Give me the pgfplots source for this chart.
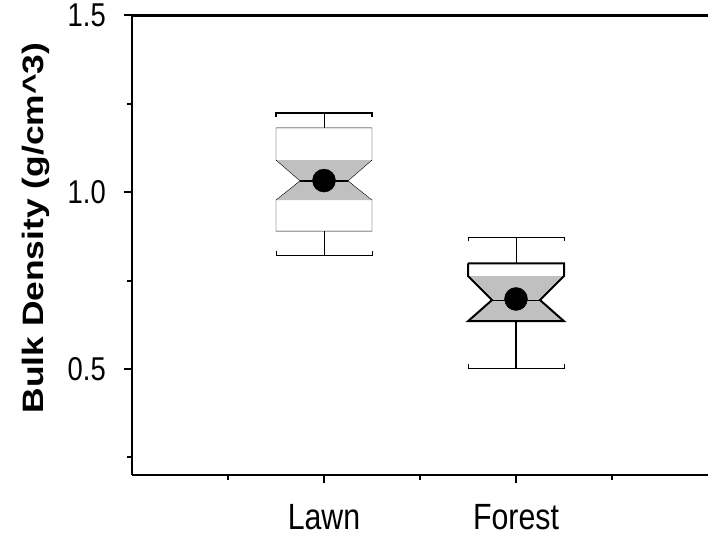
\documentclass[border=0pt]{standalone}
\usepackage{pgfplots}
\pgfplotsset{compat=1.18}
\usepackage{fontspec}
\setmainfont{Liberation Sans}
\usepackage{graphicx}
\newcommand\sqx[1]{\scalebox{0.83}[1]{#1}}
\definecolor{boxgray}{HTML}{C0C0C0}
\begin{document}
\begin{tikzpicture}
\begin{axis}[
  scale only axis, width=576pt, height=459.5pt,
  xmin=0, xmax=6, ymin=0.2, ymax=1.5,
  axis x line=box, axis y line=left,
  separate axis lines,
  axis line style={-, line width=2.2pt, black},
  every outer x axis line/.append style={-, line width=2.2pt, black},
  every outer y axis line/.append style={-, line width=2.2pt, black},
  xtick={2,4}, xticklabels={\sqx{Lawn},\sqx{Forest}},
  minor xtick={1,3,5},
  ytick={0.5,1.0,1.5}, yticklabels={\sqx{0.5},\sqx{1.0},\sqx{1.5}},
  minor ytick={0.25,0.75,1.25},
  xtick pos=left, ytick pos=left,
  tick align=outside,
  major tick length=8pt, minor tick length=5pt,
  tick style={black, line width=2pt},
  major tick style={black, line width=2pt},
  minor tick style={black, line width=2pt},
  xticklabel style={font=\fontsize{36.5}{40}\selectfont, inner sep=0pt, anchor=north, yshift=-21pt},
  yticklabel style={font=\fontsize{33}{36}\selectfont, inner sep=0pt, anchor=east, xshift=-18pt},
  ylabel={\scalebox{1.2}[1]{\bfseries Bulk Density (g/cm\textasciicircum 3)}},
  ylabel style={at={(axis description cs:-0.1545,0.5375)}, anchor=base, inner sep=0pt, font=\fontsize{29.5}{32}\selectfont},
  no markers,
  cycle list={{black, solid, line width=2pt}},
]
\coordinate (SW) at (rel axis cs:0,0);
\coordinate (NE) at (rel axis cs:1,1);
% Lawn: notch fill
\addplot[draw=none, fill=boxgray] coordinates {(1.5,1.091) (2.5,1.091) (2.25,1.032) (2.5,0.978) (1.5,0.978) (1.75,1.032) (1.5,1.091)};
% Lawn outline
\addplot coordinates {(1.5,1.182) (2.5,1.182) (2.5,1.091) (2.25,1.032) (2.5,0.978) (2.5,0.890) (1.5,0.890) (1.5,0.978) (1.75,1.032) (1.5,1.091) (1.5,1.182)};
\addplot coordinates {(1.75,1.032) (2.25,1.032)};
\addplot coordinates {(2,1.182) (2,1.225)};
\addplot coordinates {(2,0.890) (2,0.822)};
\addplot coordinates {(1.5,1.212) (1.5,1.225) (2.5,1.225) (2.5,1.212)};
\addplot coordinates {(1.5,0.835) (1.5,0.822) (2.5,0.822) (2.5,0.835)};
% Forest: notch fill
\addplot[draw=none, fill=boxgray] coordinates {(3.5,0.763) (4.5,0.763) (4.25,0.695) (4.5,0.635) (3.5,0.635) (3.75,0.695) (3.5,0.763)};
% Forest outline
\addplot coordinates {(3.5,0.799) (4.5,0.799) (4.5,0.763) (4.25,0.695) (4.5,0.635) (3.5,0.635) (3.75,0.695) (3.5,0.763) (3.5,0.799)};
\addplot coordinates {(3.75,0.695) (4.25,0.695)};
\addplot coordinates {(4,0.799) (4,0.874)};
\addplot coordinates {(4,0.635) (4,0.502)};
\addplot coordinates {(3.5,0.861) (3.5,0.874) (4.5,0.874) (4.5,0.861)};
\addplot coordinates {(3.5,0.515) (3.5,0.502) (4.5,0.502) (4.5,0.515)};
% means
\addplot[only marks, mark=*, mark size=11.5pt, draw=black, fill=black] coordinates {(2,1.033) (4,0.698)};
\end{axis}
\pgfresetboundingbox
\path ([xshift=-132pt,yshift=-63pt]SW) rectangle ([yshift=15.5pt]NE);
\end{tikzpicture}
\end{document}
